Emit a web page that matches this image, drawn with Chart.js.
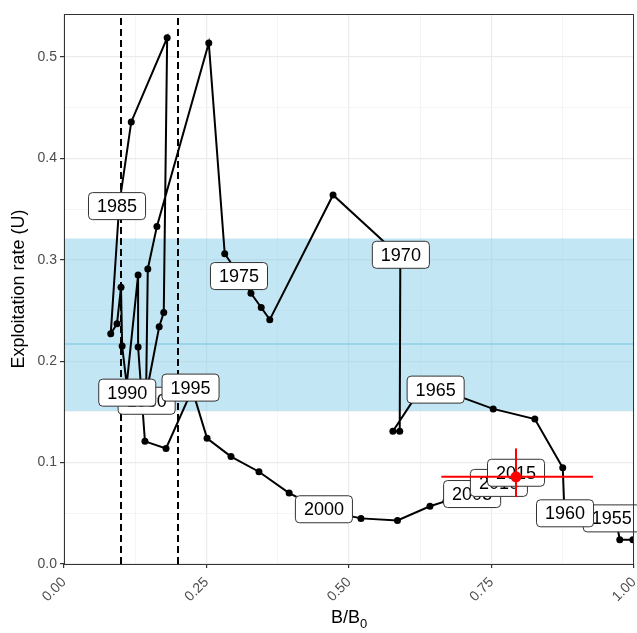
<!DOCTYPE html>
<html>
<head>
<meta charset="utf-8">
<script src="https://cdn.jsdelivr.net/npm/chart.js@4/dist/chart.umd.min.js"></script>
<style>
html, body { margin: 0; padding: 0; background: #fff; }
#wrap { width: 637px; height: 633px; }
</style>
</head>
<body>
<div id="wrap"><canvas id="chart" width="637" height="633"></canvas></div>
<script>
// stock trajectory, one point a year
var years = [];
for (var yr = 1955; yr <= 2015; yr++) years.push(yr);
var biomass = [0.998, 0.975, 0.968, 0.930, 0.900, 0.878, 0.875, 0.826, 0.753, 0.680,
	0.625, 0.577, 0.589, 0.590, 0.586, 0.590, 0.472, 0.361, 0.346, 0.328,
	0.305, 0.282, 0.254, 0.163, 0.147, 0.144, 0.167, 0.175, 0.181, 0.118,
	0.097, 0.082, 0.093, 0.100, 0.102, 0.110, 0.130, 0.130, 0.142, 0.179,
	0.225, 0.251, 0.293, 0.342, 0.395, 0.455, 0.521, 0.585, 0.642, 0.670,
	0.695, 0.710, 0.725, 0.735, 0.745, 0.755, 0.765, 0.772, 0.780, 0.787,
	0.793];
var exploitation = [0.024, 0.024, 0.045, 0.050, 0.050, 0.050, 0.095, 0.143, 0.153, 0.168,
	0.172, 0.131, 0.131, 0.298, 0.306, 0.303, 0.364, 0.241, 0.253, 0.267,
	0.287, 0.306, 0.514, 0.333, 0.291, 0.167, 0.234, 0.248, 0.519, 0.436,
	0.355, 0.227, 0.237, 0.273, 0.215, 0.177, 0.285, 0.214, 0.121, 0.114,
	0.172, 0.124, 0.106, 0.091, 0.070, 0.053, 0.045, 0.043, 0.057, 0.062,
	0.066, 0.070, 0.072, 0.074, 0.076, 0.079, 0.080, 0.082, 0.083, 0.085,
	0.086];

// year labels (repelled positions, in data units)
var labelYears = [1955, 1960, 1965, 1970, 1975, 1980, 1985, 1990, 1995, 2000, 2005, 2010, 2015];
var labelB = [0.961, 0.879, 0.652, 0.591, 0.307, 0.145, 0.093, 0.111, 0.222, 0.456, 0.716, 0.763, 0.793];
var labelU = [0.045, 0.050, 0.172, 0.305, 0.284, 0.161, 0.353, 0.169, 0.174, 0.054, 0.069, 0.080, 0.090];

// reference band and limit lines
var bandU = [0.151, 0.321];
var refU = 0.217;
var limitB = [0.1, 0.2];

// current status with uncertainty
var currentB = 0.793;
var currentU = 0.086;
var currentBRange = [0.662, 0.928];
var currentURange = [0.066, 0.114];

var xTicks = [0, 0.25, 0.5, 0.75, 1];
var yTicks = [0, 0.1, 0.2, 0.3, 0.4, 0.5];
var xMax = 1;
var yMax = 0.5425;

var FONT = '"Liberation Sans", Arial, Helvetica, sans-serif';

function isMajor(v, list) {
	for (var i = 0; i < list.length; i++) {
		if (Math.abs(v - list[i]) < 1e-6) return true;
	}
	return false;
}

var trajectory = biomass.map(function(b, i) {
	return { x: b, y: exploitation[i] };
});

var datasets = [
	{ label: 'bandTop', data: [{ x: 0, y: bandU[1] }, { x: xMax, y: bandU[1] }],
		showLine: true, borderWidth: 0, pointRadius: 0, borderColor: 'rgba(0,0,0,0)',
		backgroundColor: 'rgba(135,206,235,0.5)', fill: '+1', order: 6 },
	{ label: 'bandBottom', data: [{ x: 0, y: bandU[0] }, { x: xMax, y: bandU[0] }],
		showLine: true, borderWidth: 0, pointRadius: 0, borderColor: 'rgba(0,0,0,0)',
		fill: false, order: 6 },
	{ label: 'ref', data: [{ x: 0, y: refU }, { x: xMax, y: refU }],
		showLine: true, borderWidth: 1.5, pointRadius: 0, borderColor: '#8ccfea', order: 5 }
];
limitB.forEach(function(b) {
	datasets.push({ label: 'limit', data: [{ x: b, y: 0 }, { x: b, y: yMax }],
		showLine: true, borderWidth: 2, pointRadius: 0, borderColor: '#000',
		borderDash: [7, 4], order: 4 });
});
datasets.push({ label: 'trajectory', data: trajectory, showLine: true,
	borderColor: '#000', backgroundColor: '#000', borderWidth: 2,
	pointRadius: 3.5, pointBorderWidth: 0, order: 3 });
datasets.push({ label: 'currentB', data: [{ x: currentBRange[0], y: currentU }, { x: currentBRange[1], y: currentU }],
	showLine: true, borderColor: '#ff0000', borderWidth: 2, pointRadius: 0, order: 1 });
datasets.push({ label: 'currentU', data: [{ x: currentB, y: currentURange[0] }, { x: currentB, y: currentURange[1] }],
	showLine: true, borderColor: '#ff0000', borderWidth: 2, pointRadius: 0, order: 1 });
datasets.push({ label: 'current', data: [{ x: currentB, y: currentU }],
	backgroundColor: '#ff0000', borderWidth: 0, pointRadius: 5.5, order: 0 });

function roundBox(ctx, x, y, w, h, r) {
	ctx.beginPath();
	ctx.moveTo(x + r, y);
	ctx.arcTo(x + w, y, x + w, y + h, r);
	ctx.arcTo(x + w, y + h, x, y + h, r);
	ctx.arcTo(x, y + h, x, y, r);
	ctx.arcTo(x, y, x + w, y, r);
	ctx.closePath();
}

var yearLabels = {
	id: 'yearLabels',
	afterDatasetDraw: function(chart, args) {
		if (chart.data.datasets[args.index].label !== 'trajectory') return;
		var ctx = chart.ctx;
		var xs = chart.scales.x, ys = chart.scales.y;
		ctx.save();
		ctx.font = '18px ' + FONT;
		ctx.textAlign = 'center';
		ctx.textBaseline = 'middle';
		labelYears.forEach(function(year, i) {
			var cx = xs.getPixelForValue(labelB[i]);
			var cy = ys.getPixelForValue(labelU[i]);
			var txt = String(year);
			var w = ctx.measureText(txt).width + 17;
			var h = 27;
			roundBox(ctx, cx - w / 2, cy - h / 2, w, h, 4);
			ctx.fillStyle = '#fff';
			ctx.fill();
			ctx.lineWidth = 1;
			ctx.strokeStyle = '#333';
			ctx.stroke();
			ctx.fillStyle = '#000';
			ctx.fillText(txt, cx, cy + 1);
		});
		ctx.restore();
	}
};

var frame = {
	id: 'frame',
	afterDraw: function(chart) {
		var ctx = chart.ctx, a = chart.chartArea;
		ctx.save();
		ctx.strokeStyle = '#333';
		ctx.lineWidth = 1;
		ctx.strokeRect(a.left + 0.5, a.top + 0.5, a.right - a.left - 1, a.bottom - a.top);
		// axis titles
		ctx.fillStyle = '#000';
		ctx.font = '18px ' + FONT;
		ctx.textBaseline = 'alphabetic';
		var main = 'B/B';
		var mw = ctx.measureText(main).width;
		ctx.font = '13px ' + FONT;
		var sw = ctx.measureText('0').width;
		var cx = (a.left + a.right) / 2;
		var x0 = cx - (mw + sw) / 2;
		ctx.font = '18px ' + FONT;
		ctx.textAlign = 'left';
		ctx.fillText(main, x0, 623);
		ctx.font = '13px ' + FONT;
		ctx.fillText('0', x0 + mw, 628);
		ctx.translate(19, (a.top + a.bottom) / 2);
		ctx.rotate(-Math.PI / 2);
		ctx.font = '18px ' + FONT;
		ctx.textAlign = 'center';
		ctx.textBaseline = 'middle';
		ctx.fillText('Exploitation rate (U)', 0, 0);
		ctx.restore();
	}
};

new Chart(document.getElementById('chart'), {
	type: 'scatter',
	data: { datasets: datasets },
	plugins: [yearLabels, frame],
	options: {
		responsive: false,
		animation: false,
		layout: { autoPadding: false, padding: { top: 14, right: 3, left: 0, bottom: 0 } },
		plugins: { legend: { display: false }, tooltip: { enabled: false } },
		scales: {
			x: {
				type: 'linear', min: 0, max: xMax,
				afterFit: function(scale) {
					scale.height = 69;
					scale.paddingLeft = 0;
					scale.paddingRight = 0;
				},
				border: { display: false },
				grid: {
					color: function(c) { return c.tick && isMajor(c.tick.value, xTicks) ? '#ebebeb' : '#f4f4f4'; },
					lineWidth: function(c) { return c.tick && isMajor(c.tick.value, xTicks) ? 1.2 : 1; },
					tickColor: function(c) { return c.tick && isMajor(c.tick.value, xTicks) ? '#333' : 'rgba(0,0,0,0)'; },
					tickLength: 4
				},
				ticks: {
					stepSize: 0.125, autoSkip: false, minRotation: 45, maxRotation: 45,
					color: '#4d4d4d', font: { size: 14, family: FONT }, padding: 6,
					callback: function(v) { return isMajor(v, xTicks) ? v.toFixed(2) : ''; }
				}
			},
			y: {
				type: 'linear', min: 0, max: yMax,
				afterFit: function(scale) {
					scale.width = 64;
					scale.paddingTop = 0;
					scale.paddingBottom = 0;
				},
				border: { display: false },
				grid: {
					color: function(c) { return c.tick && isMajor(c.tick.value, yTicks) ? '#ebebeb' : '#f4f4f4'; },
					lineWidth: function(c) { return c.tick && isMajor(c.tick.value, yTicks) ? 1.2 : 1; },
					tickColor: function(c) { return c.tick && isMajor(c.tick.value, yTicks) ? '#333' : 'rgba(0,0,0,0)'; },
					tickLength: 4
				},
				ticks: {
					stepSize: 0.05, autoSkip: false,
					color: '#4d4d4d', font: { size: 14, family: FONT }, padding: 3,
					callback: function(v) { return isMajor(v, yTicks) ? v.toFixed(1) : ''; }
				}
			}
		}
	}
});
</script>
</body>
</html>
